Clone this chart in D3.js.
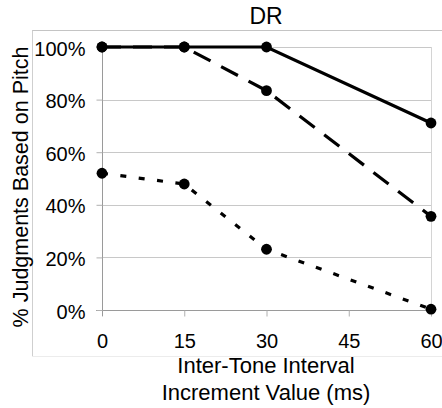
<!DOCTYPE html>
<html><head><meta charset="utf-8">
<script src="https://cdn.jsdelivr.net/npm/d3@7"></script>
<style>
html,body{margin:0;padding:0;background:#fff;}
svg{display:block;font-family:"Liberation Sans",Arial,sans-serif;}
</style></head>
<body>
<script>
const title = "DR";
const xValues = [0, 15, 30, 60];
const xTicks = [0, 15, 30, 45, 60];
const yTicks = [0, 0.2, 0.4, 0.6, 0.8, 1.0];
const solidSeries = [1.00, 1.00, 1.00, 0.711];
const dashedSeries = [1.00, 1.00, 0.834, 0.356];
const dottedSeries = [0.520, 0.479, 0.231, 0.003];
const xTitleLines = ["Inter-Tone Interval", "Increment Value (ms)"];
const yTitle = "% Judgments Based on Pitch";

const W = 442, H = 408;
const svg = d3.select("body").append("svg").attr("width", W).attr("height", H);

const x = d3.scaleLinear().domain([0, 60]).range([102, 431]);
const y = d3.scaleLinear().domain([0, 1]).range([310, 47]);

// outer frame
svg.append("line").attr("x1", 32).attr("x2", W).attr("y1", 30.5).attr("y2", 30.5).attr("stroke", "#c4c4c4");
svg.append("line").attr("x1", 32.5).attr("x2", 32.5).attr("y1", 30.5).attr("y2", 356).attr("stroke", "#cfcfcf");
svg.append("line").attr("x1", 32).attr("x2", W).attr("y1", 356.5).attr("y2", 356.5).attr("stroke", "#ececec");

// gridlines
svg.append("g").selectAll("line").data(yTicks.slice(1)).join("line")
  .attr("x1", x(0)).attr("x2", x(60))
  .attr("y1", d => Math.round(y(d)) + 0.5).attr("y2", d => Math.round(y(d)) + 0.5)
  .attr("stroke", "#c8c8c8");
// right plot border
svg.append("line").attr("x1", x(60) + 0.5).attr("x2", x(60) + 0.5).attr("y1", y(1)).attr("y2", y(0)).attr("stroke", "#d4d4d4");

// x axis
const xAxis = d3.axisBottom(x).tickValues(xTicks).tickSize(6).tickSizeOuter(0).tickFormat(d3.format("d"));
const gx = svg.append("g").attr("transform", `translate(0,${Math.round(y(0)) + 0.5})`).call(xAxis);
gx.select(".domain").attr("stroke", "#9a9a9a").attr("d", `M${x(0) - 6},0H${x(60)}`);
gx.selectAll(".tick line").attr("stroke", "#b0b0b0");
gx.selectAll(".tick text").attr("font-size", 20).attr("fill", "#000").attr("dy", 0).attr("y", 37)
  .attr("font-family", "Liberation Sans, Arial, sans-serif");

// y axis
const yAxis = d3.axisLeft(y).tickValues(yTicks).tickSize(6).tickSizeOuter(0).tickFormat(d3.format(".0%"));
const gy = svg.append("g").attr("transform", `translate(${Math.round(x(0)) + 0.5},0)`).call(yAxis);
gy.select(".domain").attr("stroke", "#9a9a9a").attr("d", `M0,${y(1)}V${y(0) + 6}`);
gy.selectAll(".tick line").attr("stroke", "#b0b0b0");
gy.selectAll(".tick text").attr("font-size", 20).attr("fill", "#000").attr("x", -17).attr("dy", "0.4em")
  .attr("font-family", "Liberation Sans, Arial, sans-serif");

// lines
const line = d3.line().x((d, i) => x(xValues[i])).y(d => y(d));
const series = [
  { data: dashedSeries, dash: "19,12" },
  { data: dottedSeries, dash: "6,12.5" },
  { data: solidSeries, dash: null }
];
series.forEach(s => {
  svg.append("path").datum(s.data).attr("d", line).attr("fill", "none")
    .attr("stroke", "#000").attr("stroke-width", 3.2)
    .attr("stroke-dasharray", s.dash);
  svg.append("g").selectAll("circle").data(s.data).join("circle")
    .attr("cx", (d, i) => x(xValues[i])).attr("cy", d => y(d)).attr("r", 5.4).attr("fill", "#000");
});

// title
svg.append("text").attr("x", 266).attr("y", 24).attr("text-anchor", "middle")
  .attr("font-size", 23).text(title);

// x title
svg.append("text").attr("x", 266).attr("text-anchor", "middle").attr("font-size", 22)
  .selectAll("tspan").data(xTitleLines).join("tspan")
  .attr("x", 266).attr("y", (d, i) => 373 + i * 27).text(d => d);

// y title
svg.append("text").attr("transform", "translate(28,187) rotate(-90)").attr("text-anchor", "middle")
  .attr("font-size", 21.5).text(yTitle);
</script>
</body></html>
